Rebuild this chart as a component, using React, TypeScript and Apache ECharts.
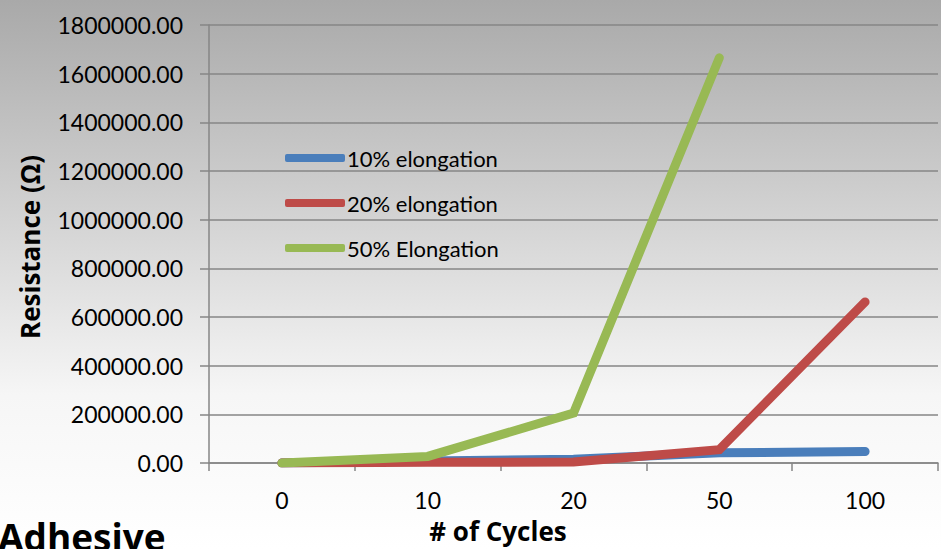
import React, { useEffect, useRef } from "react";
import * as echarts from "echarts";

const cycles = ["0", "10", "20", "50", "100"];
const elong10 = [0, 8000, 15000, 42000, 47000];
const elong20 = [0, 3000, 4000, 55000, 662000];
const elong50 = [0, 27000, 205000, 1665000];
const seriesNames = ["10% elongation", "20% elongation", "50% Elongation"];
const seriesColors = ["#4a7ebb", "#be4b48", "#98b954"];

const FONT = "Lato";
const TITLE_FONT = "'Open Sans'";

export default function App() {
  const ref = useRef<HTMLDivElement>(null);

  useEffect(() => {
    if (!ref.current) return;
    const chart = echarts.init(ref.current, undefined, { renderer: "svg" });
    const datasets = [elong10, elong20, elong50];
    chart.setOption({
      animation: false,
      backgroundColor: new echarts.graphic.LinearGradient(0, 0, 0, 1, [
        { offset: 0, color: "#a9a9a9" },
        { offset: 0.35, color: "#cecece" },
        { offset: 0.72, color: "#f6f6f6" },
        { offset: 1, color: "#ffffff" },
      ]),
      textStyle: { fontFamily: FONT },
      grid: { left: 209, right: 3, top: 25, bottom: 86, containLabel: false },
      legend: {
        orient: "vertical",
        left: 285,
        top: 147,
        padding: 0,
        icon: "roundRect",
        itemWidth: 60,
        itemHeight: 8,
        itemGap: 23,
        data: seriesNames,
        textStyle: { fontFamily: FONT, fontSize: 22, color: "#000", padding: [0, 0, 0, -3] },
      },
      xAxis: {
        type: "category",
        data: cycles,
        boundaryGap: true,
        axisLine: { lineStyle: { color: "#868686", width: 1.5 } },
        axisTick: { show: true, length: 8, lineStyle: { color: "#868686", width: 1.5 } },
        axisLabel: { color: "#000", fontSize: 23, fontFamily: FONT, margin: 25 },
      },
      yAxis: {
        type: "value",
        min: 0,
        max: 1800000,
        interval: 200000,
        axisLine: { show: true, lineStyle: { color: "#868686", width: 1.5 } },
        axisTick: { show: true, length: 9, lineStyle: { color: "#868686", width: 1.5 } },
        splitLine: { lineStyle: { color: "#868686", width: 1.5 } },
        axisLabel: {
          color: "#000",
          fontSize: 23,
          fontFamily: FONT,
          margin: 26,
          formatter: (v: number) => v.toFixed(2),
        },
      },
      series: datasets.map((d, i) => ({
        name: seriesNames[i],
        type: "line",
        data: d,
        symbol: "none",
        color: seriesColors[i],
        lineStyle: { width: 9, color: seriesColors[i], cap: "round", join: "miter" },
        z: 2 + i,
      })),
      graphic: [
        {
          type: "text",
          x: 30,
          y: 247,
          rotation: Math.PI / 2,
          style: {
            text: "Resistance (Ω)",
            fill: "#000",
            font: `bold 26px ${TITLE_FONT}`,
            textAlign: "center",
            textVerticalAlign: "middle",
          },
        },
        {
          type: "text",
          x: 498,
          y: 531,
          style: {
            text: "# of Cycles",
            fill: "#000",
            font: `bold 26px ${TITLE_FONT}`,
            textAlign: "center",
            textVerticalAlign: "middle",
          },
        },
        {
          type: "text",
          x: -2,
          y: 536,
          style: {
            text: "Adhesive",
            fill: "#000",
            font: `bold 37px ${TITLE_FONT}`,
            textAlign: "left",
            textVerticalAlign: "middle",
          },
        },
      ],
    });
    return () => chart.dispose();
  }, []);

  return (
    <div
      ref={ref}
      style={{ position: "fixed", left: 0, top: 0, width: 941, height: 549 }}
    />
  );
}
